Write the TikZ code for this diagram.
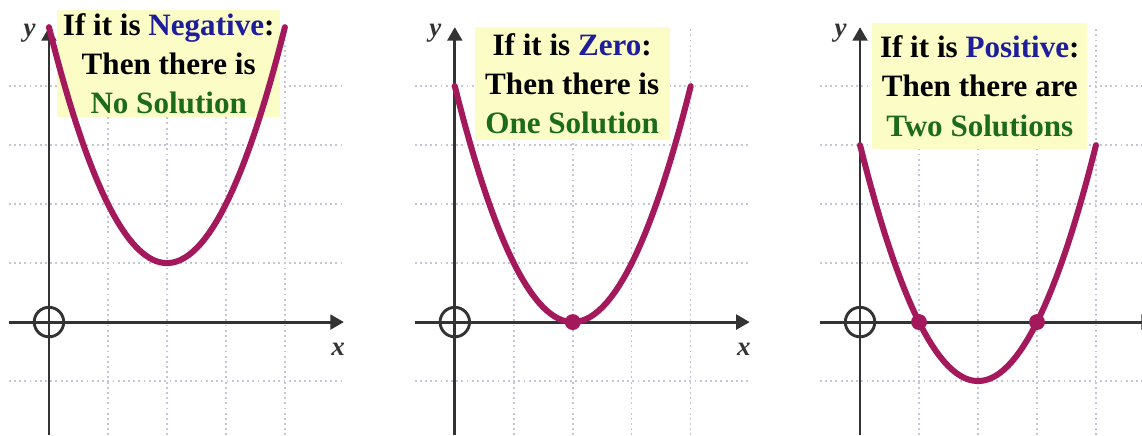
\documentclass[tikz,border=0pt]{standalone}
\usepackage{fontspec}
\setmainfont{Liberation Serif}
\usepackage{xcolor}
\usetikzlibrary{arrows.meta}
\definecolor{curvecol}{HTML}{A3195B}
\definecolor{hiyel}{HTML}{FCFCC6}
\definecolor{wordblue}{HTML}{1E1E9C}
\definecolor{wordgreen}{HTML}{1B6B1B}
\definecolor{axisgray}{HTML}{333333}
\definecolor{gridgray}{HTML}{C4C6D4}

\begin{document}
\begin{tikzpicture}[
  gridln/.style={gridgray, line width=0.7pt, dash pattern=on 0.9pt off 1.6pt},
  axis/.style={axisgray, line width=1.4pt, -{Triangle[length=2.3mm, width=2.5mm]}},
  curve/.style={curvecol, line width=2.9pt, line cap=round},
  root/.style={circle, fill=curvecol, inner sep=0pt, minimum size=2.7mm},
  note/.style={fill=hiyel, align=center, inner sep=0pt,
               font=\fontsize{15}{19}\selectfont\bfseries},
  axlab/.style={text=axisgray, font=\fontsize{13}{13}\selectfont\bfseries\itshape}
]
\useasboundingbox (-0.83,-1.92) rectangle (18.53,5.46);

% ---- grid, one set per panel -------------------------------------------
\foreach \p/\sx/\xr in {1/0/5.0, 2/6.88/5.0, 3/13.75/4.78} {
  \begin{scope}[xshift=\sx cm]
    \foreach \gy in {-1,1,2,3,4}
      \draw[gridln] (-0.68,\gy) -- (\xr,\gy);
    \foreach \gx in {1,...,4}
      \draw[gridln] (\gx,-1.92) -- (\gx,5);
  \end{scope}
}

% ---- condition boxes ----------------------------------------------------
\node[note, minimum width=3.78cm, minimum height=1.82cm] (neg) at (2.03,4.38)
  {If it is \textcolor{wordblue}{Negative}:\\Then there is\\\textcolor{wordgreen}{No Solution}};
\node[note, minimum width=3.3cm, minimum height=1.92cm] (zero) at (6.88+1.99,4.04)
  {If it is \textcolor{wordblue}{Zero}:\\Then there is\\\textcolor{wordgreen}{One Solution}};
\node[note, minimum width=3.65cm, minimum height=2.14cm] (pos) at (13.75+2.03,4.0)
  {If it is \textcolor{wordblue}{Positive}:\\Then there are\\\textcolor{wordgreen}{Two Solutions}};

% ---- axes ---------------------------------------------------------------
\foreach \p/\sx in {1/0, 2/6.88, 3/13.75} {
  \begin{scope}[xshift=\sx cm]
    \draw[axis] (-0.68,0) -- (5,0);
    \draw[axis] (0,-1.92) -- (0,5);
    \draw[axisgray, line width=1.4pt] (0,0) circle (0.25);
    \node[axlab] (ylab\p) at (-0.33,4.9) {y};
  \end{scope}
}
\node[axlab] (xlab1) at (4.9,-0.47) {x};
\node[axlab] (xlab2) at (6.88+4.9,-0.47) {x};

% ---- parabolas ----------------------------------------------------------
\draw[curve] plot[domain=0:4, samples=60] (\x,{(\x-2)^2+1});
\begin{scope}[xshift=6.88cm]
  \draw[curve] plot[domain=0:4, samples=60] (\x,{(\x-2)^2});
  \node[root] (r0) at (2,0) {};
\end{scope}
\begin{scope}[xshift=13.75cm]
  \draw[curve] plot[domain=0:4, samples=60] (\x,{(\x-2)^2-1});
  \node[root] (r1) at (1,0) {};
  \node[root] (r2) at (3,0) {};
\end{scope}
\end{tikzpicture}
\end{document}
